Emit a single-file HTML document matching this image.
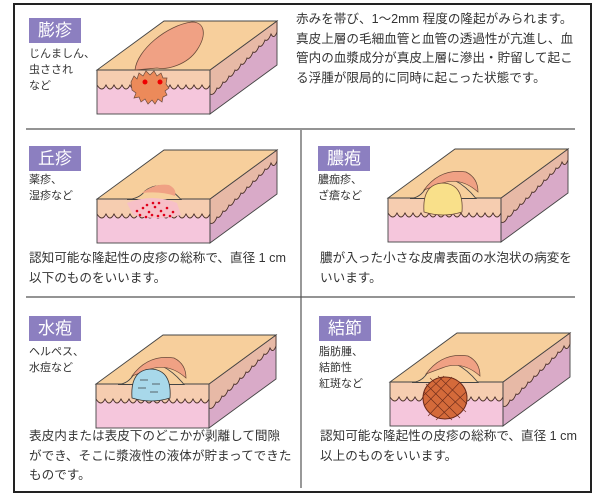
<!DOCTYPE html>
<html><head><meta charset="utf-8"><style>
body{margin:0;background:#fff;width:600px;height:498px;overflow:hidden;font-family:"Liberation Sans","Noto Sans CJK JP",sans-serif;color:#333}
.t{position:absolute;font-size:12.6px;line-height:19.5px;white-space:nowrap}
.s{position:absolute;font-size:11px;line-height:16px;white-space:nowrap}
.lb{position:absolute;background:#8c7fc0;color:#fff;font-size:17px;line-height:25px;width:52px;text-align:center}
</style></head><body>
<svg width="600" height="498" style="position:absolute;left:0;top:0">
<defs>
<g id="blk">
<polygon points="0,0 113,0 113,44 0,44" fill="#f5c6dc"/>
<path d="M0,0 H113 V15 q-4,8 -8,0 q-4,8 -8,0 q-4,8 -8,0 q-4,8 -8,0 q-4,8 -8,0 q-4,8 -8,0 q-4,8 -8,0 q-4,8 -8,0 q-4,8 -8,0 q-4,8 -8,0 q-4,8 -8,0 q-4,8 -8,0 q-4,8 -8,0 q-4,8 -9,0 Z" fill="#f6cdb0" stroke="#4a3028" stroke-width="0.9"/>
<polygon points="113,0 180,-49 180,-5 113,44" fill="#d9aac8" stroke="#444" stroke-width="0.9"/>
<path d="M113,0 L180,-49 V-38 q-3,8 -6,2 q-3,8 -6,6 q-3,8 -6,6 q-3,8 -6,6 q-3,8 -6,6 q-3,8 -6,6 q-3,8 -6,6 q-3,8 -6,6 q-3,8 -6,6 q-3,8 -6,6 q-3,8 -7,6 Z" fill="#e7b9a6" stroke="#4a3028" stroke-width="0.9"/>
<polygon points="0,0 113,0 180,-49 67,-49" fill="#f7cf9c" stroke="#444" stroke-width="0.9"/>
<rect x="0" y="0" width="113" height="44" fill="none" stroke="#444" stroke-width="0.9"/>
</g>
<path id="hump" d="M22,0.5 Q32,0 38,-10 Q50,-24 66,-18 Q78,-12 88,0.5 Z" fill="#f7cf9c" stroke="#444" stroke-width="0.9"/>
</defs>
<rect x="14" y="4" width="577" height="488" fill="none" stroke="#222" stroke-width="2"/>
<line x1="26" y1="129" x2="575" y2="129" stroke="#555" stroke-width="1.2"/>
<line x1="26" y1="297" x2="575" y2="297" stroke="#555" stroke-width="1.2"/>
<line x1="301" y1="130" x2="301" y2="488" stroke="#555" stroke-width="1.2"/>
<!-- 1 -->
<g transform="translate(97,70)"><use href="#blk"/>
<path d="M38,0 C40,-20 70,-45 95,-48 C108,-48 110,-35 100,-20 C90,-5 70,0 60,-2 Z" fill="#f0a184" stroke="#6b4a3a" stroke-width="0.8"/>
<path d="M34,12 l3,-6 3,3 2,-6 4,3 3,-5 4,4 4,-4 3,5 4,-3 2,5 4,0 -1,6 3,4 -4,3 2,4 -4,2 -1,5 -4,-3 -3,5 -3,-4 -4,4 -3,-5 -4,3 -2,-5 -5,1 2,-5 -4,-3 Z" fill="#ec8a5a" stroke="#6b4a3a" stroke-width="0.7"/>
<circle cx="48" cy="12" r="2.5" fill="#e00"/><circle cx="63" cy="12" r="2.5" fill="#e00"/></g>
<!-- 2 -->
<g transform="translate(97,199)"><use href="#blk"/>
<path d="M30,0.5 Q42,0 48,-8 Q58,-16 70,-12 Q78,-6 84,0.5 Z" fill="#f7cf9c" stroke="#444" stroke-width="0.9"/>
<path d="M45,-6 Q58,-16 72,-14 Q80,-10 78,-3 Q64,-8 45,-6Z" fill="#f0a184"/>
<path d="M30,4 Q55,-6 80,4 L84,16 Q60,22 36,16 Z" fill="#f7c0c8"/>
<g fill="#e0001a"><circle cx="40" cy="12" r="1.3"/><circle cx="46" cy="9" r="1.3"/><circle cx="52" cy="13" r="1.3"/><circle cx="58" cy="8" r="1.3"/><circle cx="64" cy="12" r="1.3"/><circle cx="70" cy="9" r="1.3"/><circle cx="76" cy="13" r="1.3"/><circle cx="43" cy="16" r="1.3"/><circle cx="49" cy="18" r="1.3"/><circle cx="55" cy="16" r="1.3"/><circle cx="61" cy="17" r="1.3"/><circle cx="67" cy="16" r="1.3"/><circle cx="73" cy="17" r="1.3"/><circle cx="56" cy="4" r="1.3"/><circle cx="62" cy="4" r="1.3"/><circle cx="50" cy="6" r="1.3"/></g></g>
<!-- 3 -->
<g transform="translate(388,198)"><use href="#blk"/><use href="#hump"/>
<path d="M36,-8 Q52,-30 78,-26 Q90,-20 90,-6 Q72,-22 52,-14 Z" fill="#f0a184" stroke="#6b4a3a" stroke-width="0.7"/>
<path d="M36,14 Q34,-14 55,-15 Q76,-14 74,14 Q55,20 36,14Z" fill="#f9e08a" stroke="#6b4a3a" stroke-width="0.8"/></g>
<!-- 4 -->
<g transform="translate(96,384)"><use href="#blk"/><use href="#hump"/>
<path d="M36,-8 Q52,-30 78,-26 Q90,-20 90,-6 Q72,-22 52,-14 Z" fill="#f0a184" stroke="#6b4a3a" stroke-width="0.7"/>
<path d="M36,14 Q34,-14 55,-15 Q76,-14 74,14 Q55,20 36,14Z" fill="#a8d8ea" stroke="#333" stroke-width="0.8"/>
<g stroke="#333" stroke-width="0.7"><line x1="44" y1="-4" x2="52" y2="-4"/><line x1="56" y1="0" x2="64" y2="0"/><line x1="42" y1="4" x2="50" y2="4"/><line x1="54" y1="8" x2="62" y2="8"/></g></g>
<!-- 5 -->
<g transform="translate(390,382)"><use href="#blk"/><use href="#hump"/>
<path d="M36,-8 Q52,-30 78,-26 Q90,-20 90,-6 Q72,-22 52,-14 Z" fill="#f0a184" stroke="#6b4a3a" stroke-width="0.7"/>
<ellipse cx="55" cy="16" rx="22" ry="21" fill="#d46a3a" stroke="#6b2a1a"/>
<g stroke="#6b2a1a" stroke-width="0.6"><line x1="36" y1="2" x2="70" y2="36"/><line x1="40" y1="-4" x2="76" y2="30"/><line x1="48" y1="-6" x2="77" y2="22"/><line x1="34" y1="10" x2="62" y2="38"/><line x1="70" y1="0" x2="38" y2="34"/><line x1="62" y1="-5" x2="34" y2="24"/><line x1="76" y1="10" x2="46" y2="38"/><line x1="54" y1="-6" x2="33" y2="14"/></g></g>
</svg>
<div class="lb" style="left:29px;top:18px">膨疹</div>
<div class="s" style="left:29px;top:46px">じんましん、<br>虫さされ<br>など</div>
<div class="t" style="left:296px;top:10px">赤みを帯び、1～2mm 程度の隆起がみられます。<br>真皮上層の毛細血管と血管の透過性が亢進し、血<br>管内の血漿成分が真皮上層に滲出・貯留して起こ<br>る浮腫が限局的に同時に起こった状態です。</div>
<div class="lb" style="left:29px;top:146px">丘疹</div>
<div class="s" style="left:29px;top:172px">薬疹、<br>湿疹など</div>
<div class="t" style="left:29px;top:249px">認知可能な隆起性の皮疹の総称で、直径 1 cm<br>以下のものをいいます。</div>
<div class="lb" style="left:318px;top:146px">膿疱</div>
<div class="s" style="left:318px;top:172px">膿痂疹、<br>ざ瘡など</div>
<div class="t" style="left:320px;top:249px">膿が入った小さな皮膚表面の水泡状の病変を<br>いいます。</div>
<div class="lb" style="left:29px;top:316px">水疱</div>
<div class="s" style="left:29px;top:344px">ヘルペス、<br>水痘など</div>
<div class="t" style="left:29px;top:427px">表皮内または表皮下のどこかが剥離して間隙<br>ができ、そこに漿液性の液体が貯まってできた<br>ものです。</div>
<div class="lb" style="left:319px;top:316px">結節</div>
<div class="s" style="left:319px;top:344px">脂肪腫、<br>結節性<br>紅斑など</div>
<div class="t" style="left:320px;top:427px">認知可能な隆起性の皮疹の総称で、直径 1 cm<br>以上のものをいいます。</div>
</body></html>
